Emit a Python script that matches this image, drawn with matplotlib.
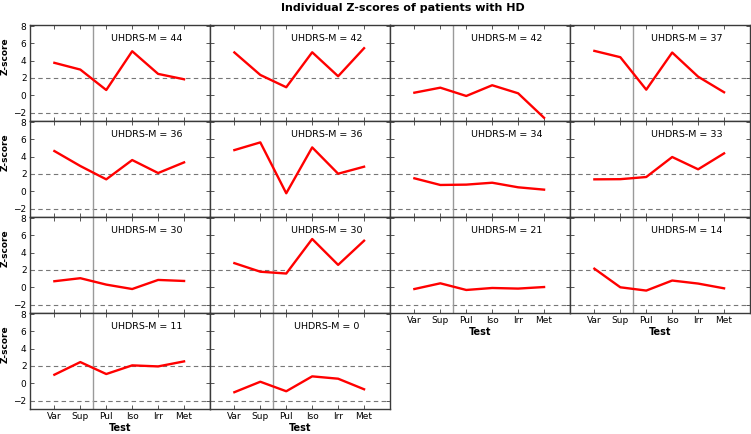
import numpy as np
import matplotlib.pyplot as plt

tests = ['Var', 'Sup', 'Pul', 'Iso', 'Irr', 'Met']
uhdrs = [44, 42, 42, 37, 36, 36, 34, 33, 30, 30, 21, 14, 11, 0]

# z-scores per patient, in test order
p44 = [3.75, 2.97, 0.61, 5.09, 2.47, 1.85]
p42a = [4.95, 2.35, 0.93, 4.97, 2.2, 5.44]
p42b = [0.3, 0.88, -0.08, 1.16, 0.23, -2.6]
p37 = [5.13, 4.4, 0.65, 4.94, 2.15, 0.35]
p36a = [4.65, 2.92, 1.38, 3.61, 2.11, 3.34]
p36b = [4.76, 5.65, -0.23, 5.07, 2.03, 2.84]
p34 = [1.5, 0.73, 0.77, 0.99, 0.46, 0.19]
p33 = [1.38, 1.4, 1.65, 3.96, 2.54, 4.38]
p30a = [0.7, 1.05, 0.31, -0.2, 0.85, 0.73]
p30b = [2.79, 1.8, 1.59, 5.58, 2.59, 5.38]
p21 = [-0.2, 0.46, -0.31, -0.08, -0.15, 0.03]
p14 = [2.15, 0.0, -0.38, 0.78, 0.43, -0.12]
p11 = [0.99, 2.45, 1.07, 2.07, 1.95, 2.53]
p0 = [-1.03, 0.18, -0.92, 0.8, 0.53, -0.69]
scores = [p44, p42a, p42b, p37, p36a, p36b, p34, p33,
          p30a, p30b, p21, p14, p11, p0]

W, H = 751, 434
fig = plt.figure(figsize=(W / 100, H / 100), dpi=100)
fig.text(403 / W, 1 - 8 / H, 'Individual Z-scores of patients with HD',
         ha='center', va='center', fontsize=8, fontweight='bold')

x = np.arange(1, len(tests) + 1)
left0, top0, pw, ph = 30, 25, 180, 96
edge = '#3a3a3a'

for i, (z, u) in enumerate(zip(scores, uhdrs)):
    r, c = divmod(i, 4)
    ax = fig.add_axes([(left0 + c * pw) / W, 1 - (top0 + (r + 1) * ph) / H,
                       pw / W, ph / H])
    ax.axhline(2, color='#777777', lw=0.8, ls=(0, (4, 3)))
    ax.axhline(-2, color='#777777', lw=0.8, ls=(0, (4, 3)))
    ax.axvline(2.5, color='#9a9a9a', lw=1.0)
    ax.plot(x, z, color='red', lw=1.7)
    ax.text(4.55, 6.55, 'UHDRS-M = %d' % u, ha='center', va='center',
            fontsize=6.8)
    ax.set_xlim(0.06, 7.0)
    ax.set_ylim(-2.97, 8.12)
    ax.set_xticks(x)
    ax.set_yticks([-2, 0, 2, 4, 6, 8])
    for s in ax.spines.values():
        s.set_color(edge)
        s.set_linewidth(1.0)
    ax.tick_params(direction='in', length=3, width=0.6, color=edge,
                   top=True, right=True, labelsize=6.5, pad=2.5)
    bottom_row = (r == 3) or (r == 2 and c >= 2)
    if bottom_row:
        ax.set_xticklabels(tests)
        ax.set_xlabel('Test', fontsize=7, fontweight='bold', labelpad=1)
    else:
        ax.set_xticklabels([])
    if c == 0:
        ax.set_ylabel('Z-score', fontsize=6.5, fontweight='bold')
        ax.yaxis.set_label_coords(-0.115, 0.68)
    else:
        ax.set_yticklabels([])

fig.savefig('out.png', dpi=100)
